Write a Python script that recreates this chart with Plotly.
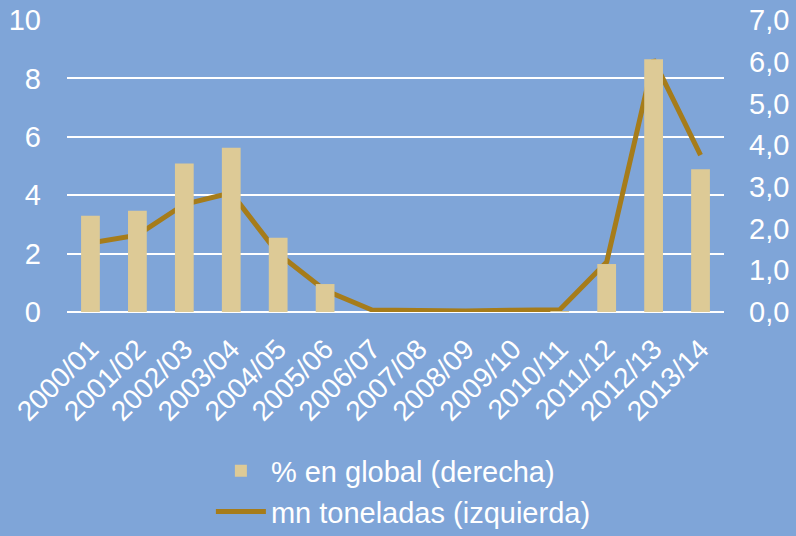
import plotly.graph_objects as go

categories = ["2000/01", "2001/02", "2002/03", "2003/04", "2004/05", "2005/06", "2006/07",
              "2007/08", "2008/09", "2009/10", "2010/11", "2011/12", "2012/13", "2013/14"]
pct_global = [2.31, 2.43, 3.56, 3.94, 1.78, 0.67, 0.0, 0.0, 0.0, 0.0, 0.02, 1.15, 6.06, 3.42]
mn_toneladas = [2.36, 2.63, 3.69, 4.08, 2.0, 0.74, 0.07, 0.03, 0.03, 0.06, 0.08, 1.71, 8.64, 5.37]

BG = "#7FA5D8"
BAR = "#DDCA96"
LINE = "#A67C1A"
FONT = "Liberation Sans"

fig = go.Figure()
fig.add_trace(go.Bar(x=categories, y=pct_global, name="% en global (derecha)",
                     marker=dict(color=BAR, line=dict(width=0)), width=0.4,
                     yaxis="y2", legendgroup="a"))
fig.add_trace(go.Scatter(x=categories, y=mn_toneladas, name="mn toneladas (izquierda)",
                         mode="lines", line=dict(color=LINE, width=5),
                         yaxis="y", legendgroup="b"))

fig.update_layout(
    width=796, height=536,
    paper_bgcolor=BG, plot_bgcolor=BG,
    margin=dict(l=67, r=72, t=20, b=224),
    separators=",.",
    font=dict(family=FONT, color="white", size=29),
    xaxis=dict(tickangle=-45, tickfont=dict(size=28),
               showgrid=False, showline=False, ticks="", automargin=False,
               ticklabelstandoff=14),
    yaxis=dict(range=[0, 10], dtick=2, showgrid=True, gridcolor="white", gridwidth=1.5,
               zeroline=True, zerolinecolor="white", zerolinewidth=1.5,
               tickfont=dict(size=29), ticklabelstandoff=25, automargin=False),
    yaxis2=dict(range=[0, 7], dtick=1, tickformat=".1f", overlaying="y", side="right",
                showgrid=False, zeroline=False, tickfont=dict(size=29), automargin=False,
                ticklabelstandoff=24),
    barmode="overlay",
    legend=dict(orientation="v", xref="paper", yref="container",
                x=0.219, xanchor="left", y=0.169, yanchor="top",
                font=dict(size=29), itemwidth=50,
                bgcolor="rgba(0,0,0,0)", tracegroupgap=20, traceorder="normal"),
    showlegend=True,
)

fig.write_html("out.html", config={"displayModeBar": False},
               post_script="document.body.style.margin='0';")
